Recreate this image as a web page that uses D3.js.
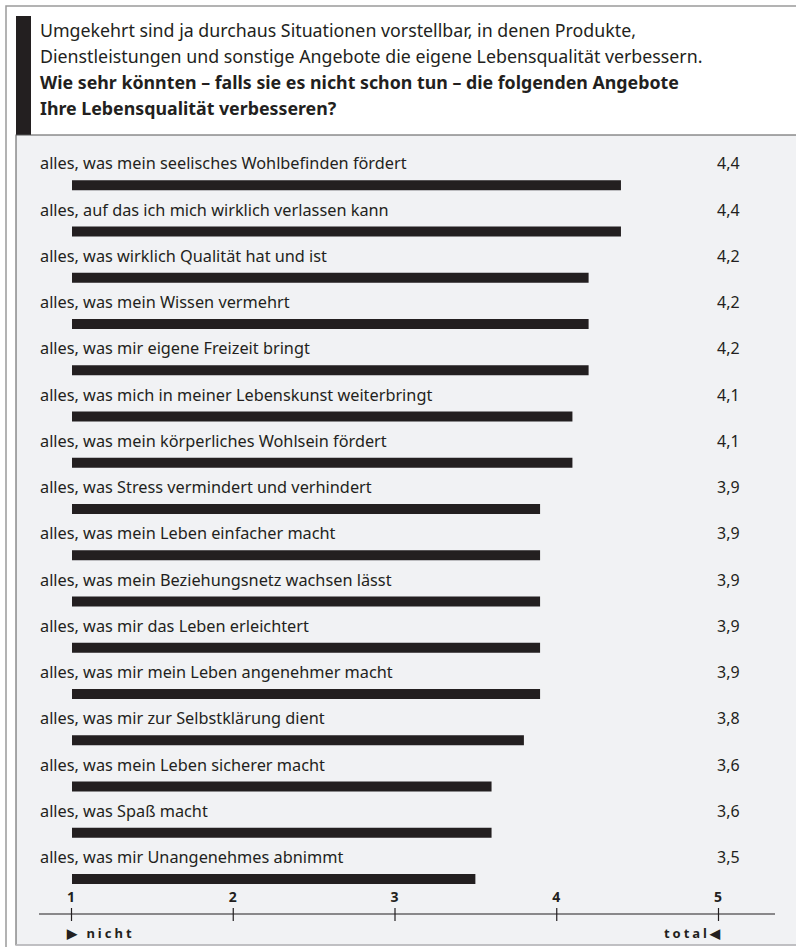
<!DOCTYPE html>
<html>
<head>
<meta charset="utf-8">
<script src="https://cdn.jsdelivr.net/npm/d3@7"></script>
<style>
  html, body { margin: 0; padding: 0; background: #ffffff; }
  svg { display: block; }
  text { font-family: "Noto Sans", "Open Sans", sans-serif; fill: #231f20; }
</style>
</head>
<body>
<svg id="chart" width="796" height="947"></svg>
<script>
// Angebote und mittlere Bewertung (Skala 1 = nicht bis 5 = total)
const categories = [
  "alles, was mein seelisches Wohlbefinden fördert",
  "alles, auf das ich mich wirklich verlassen kann",
  "alles, was wirklich Qualität hat und ist",
  "alles, was mein Wissen vermehrt",
  "alles, was mir eigene Freizeit bringt",
  "alles, was mich in meiner Lebenskunst weiterbringt",
  "alles, was mein körperliches Wohlsein fördert",
  "alles, was Stress vermindert und verhindert",
  "alles, was mein Leben einfacher macht",
  "alles, was mein Beziehungsnetz wachsen lässt",
  "alles, was mir das Leben erleichtert",
  "alles, was mir mein Leben angenehmer macht",
  "alles, was mir zur Selbstklärung dient",
  "alles, was mein Leben sicherer macht",
  "alles, was Spaß macht",
  "alles, was mir Unangenehmes abnimmt"
];
const values = [4.4, 4.4, 4.2, 4.2, 4.2, 4.1, 4.1, 3.9, 3.9, 3.9, 3.9, 3.9, 3.8, 3.6, 3.6, 3.5];
const tickValues = [1, 2, 3, 4, 5];
const scaleEndLabels = ["nicht", "total"];
const headerLines = [
  { text: "Umgekehrt sind ja durchaus Situationen vorstellbar, in denen Produkte,", bold: false },
  { text: "Dienstleistungen und sonstige Angebote die eigene Lebensqualität verbessern.", bold: false },
  { text: "Wie sehr könnten – falls sie es nicht schon tun – die folgenden Angebote", bold: true },
  { text: "Ihre Lebensqualität verbesseren?", bold: true }
];

const svg = d3.select("#chart");
const W = 796, H = 947;
const ink = "#231f20";

// Outer frame
svg.append("rect").attr("x", 6).attr("y", 6).attr("width", W).attr("height", H)
  .attr("fill", "#ffffff").attr("stroke", "#9a9a9a").attr("stroke-width", 1.5);

// Header block with black marker bar
svg.append("rect").attr("x", 16).attr("y", 16).attr("width", 15).attr("height", 120).attr("fill", ink);
svg.append("g").selectAll("text").data(headerLines).join("text")
  .attr("x", 40)
  .attr("y", (d, i) => 37 + i * 26)
  .attr("font-size", 17.8)
  .attr("font-weight", d => d.bold ? 700 : 400)
  .text(d => d.text);

// Chart panel
svg.append("rect").attr("x", 16).attr("y", 135).attr("width", W).attr("height", 810)
  .attr("fill", "#f1f2f4").attr("stroke", "#555555").attr("stroke-width", 1);
svg.append("line").attr("x1", 16).attr("x2", W).attr("y1", 945).attr("y2", 945)
  .attr("stroke", "#c8c9cc").attr("stroke-width", 1.5);

// Scales
const x = d3.scaleLinear().domain([1, 5]).range([71, 718]);
const y = d3.scaleBand().domain(d3.range(categories.length)).range([150, 890]).paddingInner(0);
const barH = 10;
const barTop = i => y(i) + y.bandwidth() - barH - 6;

const rows = svg.append("g").selectAll("g").data(categories).join("g");
rows.append("text")
  .attr("x", 40)
  .attr("y", (d, i) => barTop(i) - 11)
  .attr("font-size", 16.3)
  .text(d => d);
rows.append("text")
  .attr("x", x(5) - 1)
  .attr("y", (d, i) => barTop(i) - 11)
  .attr("font-size", 16)
  .text((d, i) => d3.format(".1f")(values[i]).replace(".", ","));
rows.append("rect")
  .attr("x", x(1) + 1)
  .attr("y", (d, i) => barTop(i))
  .attr("width", (d, i) => x(values[i]) - x(1) - 1)
  .attr("height", barH)
  .attr("fill", ink);

// Axis
const axisY = 914;
svg.append("line").attr("x1", 39).attr("x2", 775).attr("y1", axisY).attr("y2", axisY)
  .attr("stroke", ink).attr("stroke-width", 1.2);
const axis = svg.append("g").attr("transform", `translate(0,${axisY - 6})`)
  .call(d3.axisBottom(x).tickValues(tickValues).tickSize(13).tickFormat(""));
axis.select(".domain").remove();
axis.selectAll(".tick line").attr("stroke", ink).attr("stroke-width", 1.2);
svg.append("g").selectAll("text").data(tickValues).join("text")
  .attr("x", d => x(d)).attr("y", axisY - 12)
  .attr("text-anchor", "middle")
  .attr("font-size", 14).attr("font-weight", 700)
  .text(d => d);

// Scale end labels
svg.append("text").attr("x", 67).attr("y", 938)
  .attr("font-size", 13).attr("font-weight", 700).attr("letter-spacing", 3)
  .text("▶ " + scaleEndLabels[0]);
svg.append("text").attr("x", 723).attr("y", 938)
  .attr("text-anchor", "end")
  .attr("font-size", 13).attr("font-weight", 700).attr("letter-spacing", 3)
  .text(scaleEndLabels[1] + "◀");
</script>
</body>
</html>
